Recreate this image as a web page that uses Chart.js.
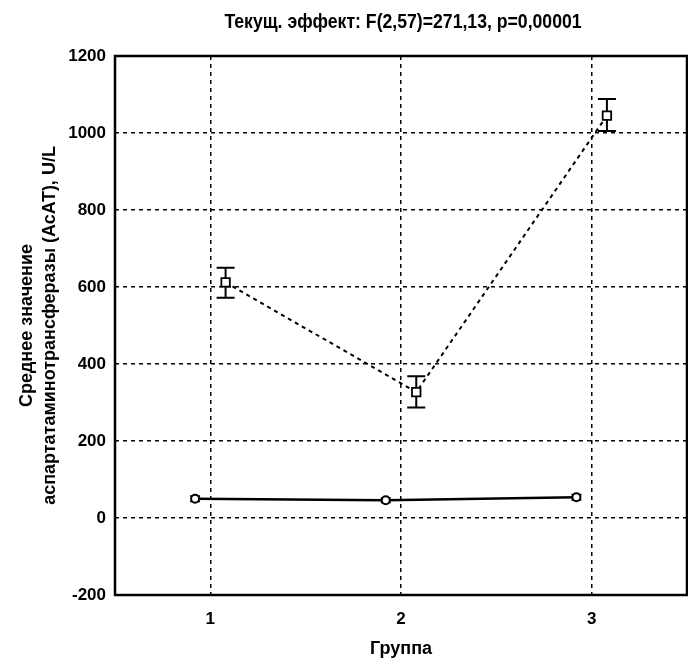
<!DOCTYPE html>
<html>
<head>
<meta charset="utf-8">
<script src="https://cdn.jsdelivr.net/npm/chart.js@4.4.1/dist/chart.umd.min.js"></script>
<style>
  html, body { margin: 0; padding: 0; background: #fff; }
  #wrap { width: 688px; height: 664px; }
</style>
</head>
<body>
<div id="wrap"><canvas id="chart" width="688" height="664"></canvas></div>
<script>
// values
const groups = [1, 2, 3];
const squareMeans = [612, 327, 1045];
const squareLow = [572, 287, 1005];
const squareHigh = [650, 368, 1088];
const circleMeans = [50, 46, 54];
const circleLow = [43, 40, 47];
const circleHigh = [57, 52, 61];
const yTicks = [-200, 0, 200, 400, 600, 800, 1000, 1200];

const titleText = 'Текущ. эффект: F(2,57)=271,13, p=0,00001';
const FONT = "'Liberation Sans', Arial, sans-serif";

const squareShift = 0.08;
const circleShift = -0.08;

// error bars, drawn under the markers
const errorBars = {
    id: 'errorBars',
    beforeDatasetsDraw(chart) {
        const { ctx, scales: { x, y } } = chart;
        ctx.save();
        ctx.strokeStyle = '#000';
        ctx.setLineDash([]);
        const draw = (xs, lows, highs, cap, lw) => {
            ctx.lineWidth = lw;
            xs.forEach((xv, i) => {
                const px = x.getPixelForValue(xv);
                const pl = y.getPixelForValue(lows[i]);
                const ph = y.getPixelForValue(highs[i]);
                ctx.beginPath();
                ctx.moveTo(px, pl); ctx.lineTo(px, ph);
                ctx.moveTo(px - cap, pl); ctx.lineTo(px + cap, pl);
                ctx.moveTo(px - cap, ph); ctx.lineTo(px + cap, ph);
                ctx.stroke();
            });
        };
        draw(groups.map(g => g + squareShift), squareLow, squareHigh, 9, 2);
        draw(groups.map(g => g + circleShift), circleLow, circleHigh, 5, 1.5);
        ctx.restore();
    }
};

// frame and the condensed heading
const frame = {
    id: 'frame',
    afterDraw(chart) {
        const { ctx, chartArea: a } = chart;
        ctx.save();
        ctx.strokeStyle = '#000';
        ctx.lineWidth = 2.5;
        ctx.setLineDash([]);
        ctx.strokeRect(a.left, a.top, a.right - a.left, a.bottom - a.top);
        ctx.fillStyle = '#000';
        ctx.font = 'bold 21px ' + FONT;
        ctx.textAlign = 'center';
        ctx.textBaseline = 'middle';
        ctx.translate(403, 22);
        ctx.scale(0.84, 1);
        ctx.fillText(titleText, 0, 0);
        ctx.restore();
    }
};

new Chart(document.getElementById('chart'), {
    type: 'scatter',
    data: {
        datasets: [{
            label: 'squares',
            data: groups.map((g, i) => ({ x: g + squareShift, y: squareMeans[i] })),
            showLine: true,
            borderColor: '#000',
            borderWidth: 2,
            borderDash: [4, 4],
            pointStyle: 'rect',
            pointRadius: 6,
            pointBorderWidth: 1.8,
            pointBackgroundColor: '#fff',
            pointBorderColor: '#000'
        }, {
            label: 'circles',
            data: groups.map((g, i) => ({ x: g + circleShift, y: circleMeans[i] })),
            showLine: true,
            borderColor: '#000',
            borderWidth: 2.5,
            pointStyle: 'circle',
            pointRadius: 4,
            pointBorderWidth: 2,
            pointBackgroundColor: '#fff',
            pointBorderColor: '#000'
        }]
    },
    options: {
        responsive: false,
        animation: false,
        layout: { autoPadding: false, padding: { top: 56, right: 1 } },
        plugins: {
            legend: { display: false },
            tooltip: { enabled: false }
        },
        scales: {
            x: {
                type: 'linear',
                min: 0.5,
                max: 3.5,
                afterBuildTicks: s => { s.ticks = groups.map(v => ({ value: v })); },
                afterFit: s => { s.height = 69; s.paddingLeft = 0; s.paddingRight = 0; },
                grid: { color: '#000', lineWidth: 1.5, drawTicks: false },
                border: { display: false, dash: [4, 4] },
                ticks: {
                    color: '#000',
                    padding: 14,
                    font: { family: FONT, size: 17, weight: 'bold' }
                },
                title: {
                    display: true,
                    text: 'Группа',
                    color: '#000',
                    padding: { top: 12 },
                    font: { family: FONT, size: 18, weight: 'bold' }
                }
            },
            y: {
                min: -200,
                max: 1200,
                afterBuildTicks: s => { s.ticks = yTicks.map(v => ({ value: v })); },
                afterFit: s => { s.width = 115; },
                grid: { color: '#000', lineWidth: 1.5, drawTicks: false },
                border: { display: false, dash: [4, 4] },
                ticks: {
                    color: '#000',
                    padding: 9,
                    callback: v => String(v),
                    font: { family: FONT, size: 17, weight: 'bold' }
                },
                title: {
                    display: true,
                    text: ['Среднее значение', 'аспартатаминотрансферазы (АсАТ), U/L'],
                    color: '#000',
                    padding: { top: 15, bottom: 0 },
                    font: { family: FONT, size: 18, weight: 'bold', lineHeight: 1.3 }
                }
            }
        }
    },
    plugins: [errorBars, frame]
});
</script>
</body>
</html>
